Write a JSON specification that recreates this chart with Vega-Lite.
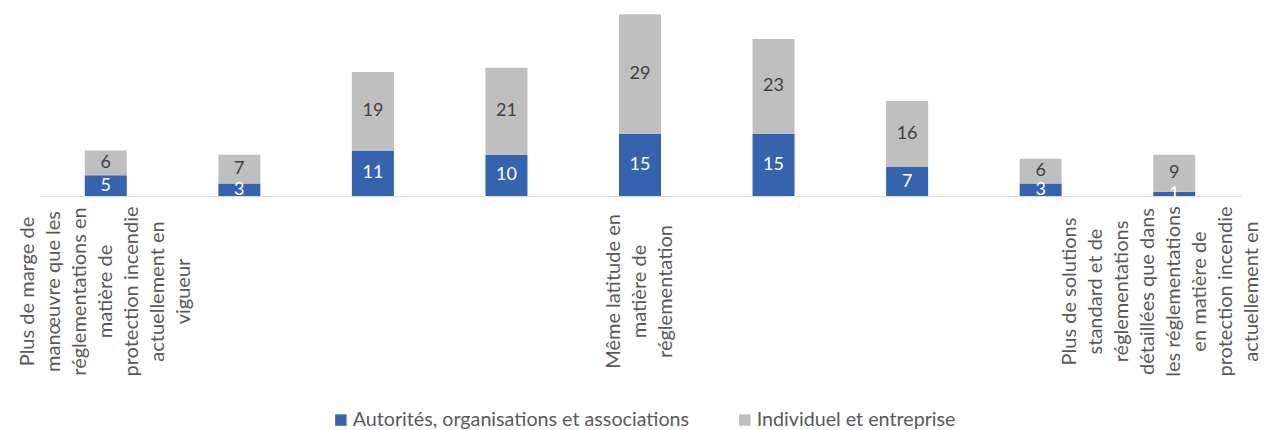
{
  "$schema": "https://vega.github.io/schema/vega-lite/v6.json",
  "width": 1202,
  "height": 186,
  "autosize": "none",
  "padding": {"left": 39, "top": 10, "right": 31, "bottom": 234},
  "config": {"view": {"stroke": null}, "font": "Lato"},
  "data": {
    "values": [
      {"cat": "Plus de marge de|manœuvre que les|réglementations en|matière de|protection incendie|actuellement en|vigueur", "serie": "Autorités, organisations et associations", "v": 5},
      {"cat": "Plus de marge de|manœuvre que les|réglementations en|matière de|protection incendie|actuellement en|vigueur", "serie": "Individuel et entreprise", "v": 6},
      {"cat": " ", "serie": "Autorités, organisations et associations", "v": 3},
      {"cat": " ", "serie": "Individuel et entreprise", "v": 7},
      {"cat": "  ", "serie": "Autorités, organisations et associations", "v": 11},
      {"cat": "  ", "serie": "Individuel et entreprise", "v": 19},
      {"cat": "   ", "serie": "Autorités, organisations et associations", "v": 10},
      {"cat": "   ", "serie": "Individuel et entreprise", "v": 21},
      {"cat": "Même latitude en|matière de|réglementation", "serie": "Autorités, organisations et associations", "v": 15},
      {"cat": "Même latitude en|matière de|réglementation", "serie": "Individuel et entreprise", "v": 29},
      {"cat": "    ", "serie": "Autorités, organisations et associations", "v": 15},
      {"cat": "    ", "serie": "Individuel et entreprise", "v": 23},
      {"cat": "     ", "serie": "Autorités, organisations et associations", "v": 7},
      {"cat": "     ", "serie": "Individuel et entreprise", "v": 16},
      {"cat": "      ", "serie": "Autorités, organisations et associations", "v": 3},
      {"cat": "      ", "serie": "Individuel et entreprise", "v": 6},
      {"cat": "Plus de solutions|standard et de|réglementations|détaillées que dans|les réglementations|en matière de|protection incendie|actuellement en", "serie": "Autorités, organisations et associations", "v": 1},
      {"cat": "Plus de solutions|standard et de|réglementations|détaillées que dans|les réglementations|en matière de|protection incendie|actuellement en", "serie": "Individuel et entreprise", "v": 9}
    ]
  },
  "encoding": {
    "x": {
      "field": "cat",
      "type": "nominal",
      "sort": null,
      "scale": {"paddingInner": 0, "paddingOuter": 0},
      "axis": {
        "title": null,
        "labelExpr": "split(datum.value, '|')",
        "labelAngle": -90,
        "labelAlign": "center",
        "labelBaseline": "middle",
        "labelPadding": 95,
        "labelOffset": {
          "condition": [
            {"test": "indexof(datum.value, 'solutions') >= 0", "value": -104},
            {"test": "indexof(datum.value, 'marge') >= 0", "value": -78}
          ],
          "value": -26
        },
        "ticks": false,
        "tickSize": 0,
        "labelFontSize": 20,
        "labelLineHeight": 26,
        "labelLimit": 0,
        "labelOverlap": false,
        "labelBound": false,
        "labelColor": "#595959",
        "domainColor": "#D9D9D9",
        "domainWidth": 1,
        "grid": false
      }
    }
  },
  "layer": [
    {
      "mark": {"type": "bar", "width": 42},
      "encoding": {
        "y": {"field": "v", "type": "quantitative", "stack": "zero", "scale": {"domain": [0, 45]}, "axis": null},
        "color": {
          "field": "serie",
          "type": "nominal",
          "scale": {"domain": ["Autorités, organisations et associations", "Individuel et entreprise"], "range": ["#3563AD", "#BFBFBF"]},
          "legend": {
            "title": null,
            "orient": "none",
            "direction": "horizontal",
            "legendX": 292,
            "legendY": 400,
            "padding": 0,
            "symbolType": "square",
            "symbolSize": 130,
            "symbolStrokeWidth": 0,
            "labelFontSize": 19.7,
            "labelColor": "#595959",
            "labelOffset": 2,
            "columnPadding": 45,
            "labelLimit": 0
          }
        },
        "order": {"field": "serie", "sort": "ascending"}
      }
    },
    {
      "transform": [
        {"stack": "v", "groupby": ["cat"], "as": ["s0", "s1"], "sort": [{"field": "serie", "order": "ascending"}]},
        {"fold": ["s0", "s1"], "as": ["k", "pos"]},
        {"aggregate": [{"op": "mean", "field": "pos", "as": "mid"}], "groupby": ["cat", "serie", "v"]}
      ],
      "mark": {"type": "text", "fontSize": 18, "align": "center", "baseline": "middle"},
      "encoding": {
        "y": {"field": "mid", "type": "quantitative"},
        "text": {"field": "v", "type": "quantitative"},
        "color": {
          "condition": {"test": "datum.serie === 'Autorités, organisations et associations'", "value": "#FFFFFF"},
          "value": "#404040"
        }
      }
    }
  ]
}
